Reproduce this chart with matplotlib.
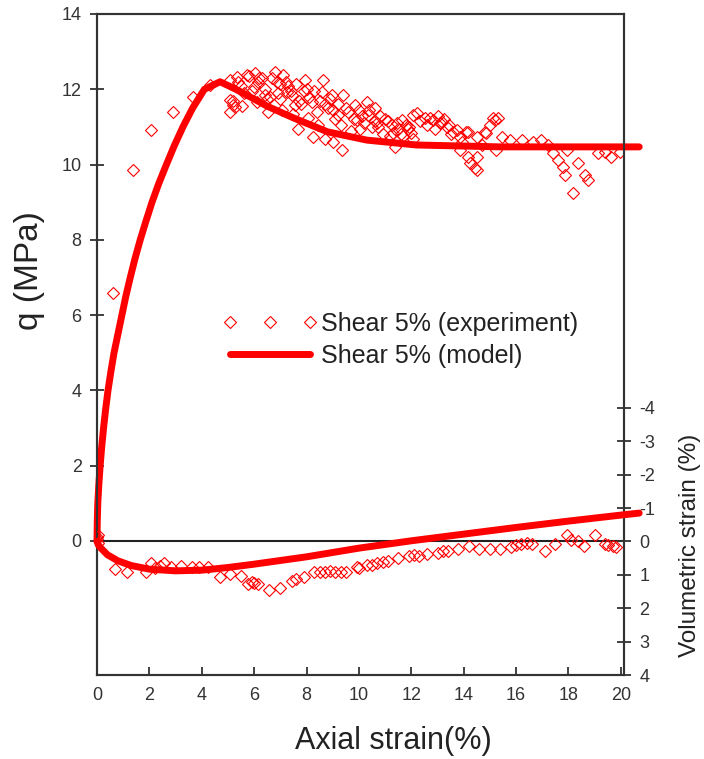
import matplotlib
matplotlib.use('Agg')
import matplotlib.pyplot as plt

plt.rcParams['font.family'] = ['Liberation Sans', 'DejaVu Sans']
plt.rcParams['axes.unicode_minus'] = False

# --- model curves ---
model_x = [0, 0.01, 0.03, 0.07, 0.12, 0.18, 0.25, 0.33, 0.42, 0.53, 0.65, 0.8, 0.95,
           1.1, 1.27, 1.45, 1.65, 1.87, 2.1, 2.36, 2.65, 2.95, 3.28, 3.65, 4.1, 4.7,
           5.3, 5.84, 6.5, 7.5, 8.8, 10.3, 12.2, 15.4, 20.7]
model_q = [0, 0.5, 1.0, 1.5, 2.0, 2.5, 3.0, 3.5, 4.0, 4.5, 5.0, 5.5, 6.0,
           6.5, 7.0, 7.5, 8.0, 8.5, 9.0, 9.5, 10.0, 10.5, 11.0, 11.5, 12.0, 12.2,
           12.0, 11.8, 11.55, 11.24, 10.87, 10.65, 10.52, 10.47, 10.47]

model_vx = [0, 0.05, 0.15, 0.4, 0.8, 1.3, 2.0, 3.0, 4.0, 5.0, 6.0, 8.0, 10.0, 12.0,
            14.0, 16.0, 18.0, 20.0, 20.7]
model_v = [0, 0.1, 0.2, 0.4, 0.58, 0.72, 0.83, 0.88, 0.86, 0.78, 0.68, 0.46, 0.2,
           -0.02, -0.22, -0.42, -0.61, -0.79, -0.85]

# --- experiment, deviator stress ---
exp_x = [0, 0.02, 0.61, 1.36, 2.06, 2.89, 3.68, 4.31,
         5.08, 5.33, 5.08, 5.27, 5.2, 5.08, 5.2, 5.71, 6.03, 6.16, 6.41, 6.54,
         6.79, 6.86, 7.11, 7.24, 6.98, 7.43, 7.56, 7.68, 7.94, 8.0, 8.19, 8.26,
         8.64, 8.58, 8.83, 8.96, 8.7, 9.02, 9.4, 9.34, 9.21, 9.6, 9.85, 9.91,
         10.29, 10.36, 10.61, 10.74, 11.0, 11.25, 11.37, 11.63, 11.88, 12.07, 12.07,
         5.5, 5.9, 6.3, 6.6, 7.3, 7.8, 8.4, 9.1, 9.7, 10.1, 10.5, 10.9, 11.5, 11.7,
         5.4, 5.6, 5.8, 6.0, 6.2, 6.4, 6.7, 6.9, 7.0, 7.2, 7.4, 7.6, 7.7, 7.9,
         8.1, 8.3, 8.5, 8.7, 8.9, 9.0, 9.2, 9.5, 9.8, 10.0, 10.2, 10.4, 10.6, 10.8,
         11.1, 11.3, 11.45, 11.8, 12.0, 5.55, 6.1, 6.5, 7.05, 7.5, 8.05, 8.45, 9.3,
         10.05, 10.7, 11.2, 11.6, 11.9,
         12.2, 12.52, 12.84, 12.9, 13.1, 13.16, 13.35, 13.6, 13.73, 13.85, 13.85,
         12.35, 12.6, 12.7, 13.0, 13.25, 13.45, 13.5, 13.95,
         14.1, 14.17, 14.17, 14.24, 14.43, 14.49, 14.49, 14.49, 14.68, 14.81, 14.87,
         15.0, 15.13, 15.19, 15.32, 15.25, 15.45, 15.76, 16.21, 16.65, 16.97, 17.23,
         17.42, 17.61, 17.8, 17.86, 17.93, 18.18, 18.37, 18.63, 18.75, 19.13, 19.39,
         19.64, 19.96]
exp_q = [0.05, 0.15, 6.6, 9.86, 10.92, 11.4, 11.8, 12.11,
         12.24, 12.33, 11.71, 11.54, 11.57, 11.4, 11.7, 12.37, 12.42, 12.19, 12.02, 11.4,
         12.46, 12.19, 12.37, 11.93, 11.75, 11.84, 11.57, 10.95, 12.24, 12.02, 11.66, 10.73,
         12.24, 11.93, 11.49, 11.84, 10.69, 10.6, 11.84, 10.38, 11.31, 11.4, 11.57, 11.18,
         11.66, 11.31, 11.49, 11.0, 11.22, 11.04, 10.47, 11.18, 10.95, 11.31, 10.69,
         12.1, 11.95, 12.3, 11.8, 12.1, 11.6, 11.4, 11.2, 10.9, 11.3, 11.0, 10.8, 10.95, 10.75,
         12.2, 11.9, 12.35, 12.05, 12.3, 11.85, 12.3, 11.9, 12.15, 12.2, 11.95, 12.15, 11.7, 11.95,
         11.8, 11.95, 11.7, 11.6, 11.75, 11.45, 11.6, 11.5, 11.2, 11.45, 11.1, 11.45, 11.15, 11.3,
         11.15, 10.85, 11.1, 11.05, 10.85, 11.55, 11.65, 11.75, 11.45, 11.35, 11.25, 11.05, 11.05,
         10.95, 11.1, 10.75, 10.8, 11.0,
         11.36, 11.23, 11.18, 10.95, 11.1, 11.14, 11.0, 10.87, 10.92, 10.74, 10.39,
         11.15, 11.05, 11.25, 11.3, 11.2, 11.05, 10.8, 10.6,
         10.87, 10.87, 10.21, 10.03, 9.9, 9.86, 10.21, 10.74, 10.52, 10.87, 10.83,
         11.05, 11.23, 11.18, 11.23, 10.39, 10.74, 10.65, 10.65, 10.6, 10.65, 10.52,
         10.3, 10.12, 9.94, 9.72, 10.39, 9.24, 10.03, 9.72, 9.59, 10.3, 10.34,
         10.21, 10.34]

# --- experiment, volumetric strain ---
exp_vx = [0, 0.02, 0.67, 1.14, 1.87, 2.08, 2.55, 2.81, 3.21, 3.62, 3.89, 4.22, 4.69,
          5.09, 5.49, 5.76, 6.16, 6.56, 6.97, 7.43, 7.9, 8.3, 8.7, 9.1, 9.5, 9.91,
          10.3, 10.7, 11.1, 11.5, 11.9, 12.3, 12.6, 13.0, 13.4, 13.8, 14.2, 14.6,
          15.0, 15.4, 15.8, 16.2, 16.6, 17.1, 17.5, 17.95, 18.35, 18.6, 19.0, 19.4,
          19.7, 2.2, 2.4, 5.9, 6.0, 7.6, 8.5, 8.9, 9.3, 10.0, 10.5, 10.9, 12.1, 13.2,
          16.0, 16.4, 18.1, 19.5, 19.8]
exp_v = [-0.12, 0.05, 0.83, 0.91, 0.9, 0.65, 0.65, 0.76, 0.74, 0.76, 0.76, 0.76, 1.07,
         0.97, 1.02, 1.28, 1.28, 1.44, 1.39, 1.18, 1.07, 0.92, 0.9, 0.9, 0.9, 0.76,
         0.71, 0.65, 0.6, 0.5, 0.45, 0.45, 0.39, 0.34, 0.28, 0.23, 0.14, 0.23,
         0.23, 0.23, 0.18, 0.08, 0.08, 0.28, 0.08, -0.18, -0.01, 0.15, -0.18, 0.08,
         0.15, 0.78, 0.72, 1.2, 1.25, 1.12, 0.9, 0.88, 0.9, 0.8, 0.7, 0.62, 0.42, 0.3,
         0.1, 0.05, -0.05, 0.12, 0.18]

q_ticks = [0, 2, 4, 6, 8, 10, 12, 14]
v_ticks = [-4, -3, -2, -1, 0, 1, 2, 3, 4]
x_ticks = [0, 2, 4, 6, 8, 10, 12, 14, 16, 18, 20]

W, H = 704, 759
fig = plt.figure(figsize=(W / 100, H / 100), dpi=100)
ax = fig.add_axes([97 / W, 1 - 675 / H, (624 - 97) / W, (675 - 14) / H])
ax2 = ax.twinx()

red = '#ff0000'
ax.plot(exp_x, exp_q, ls='none', marker='D', ms=6.5, mfc='none', mec=red, mew=0.8,
        label='Shear 5% (experiment)', zorder=3)
ax.plot(model_x, model_q, color=red, lw=5, solid_capstyle='round', clip_on=False,
        label='Shear 5% (model)', zorder=4)
ax.axhline(0, color='#222222', lw=1.5, zorder=2)

ax2.plot(exp_vx, exp_v, ls='none', marker='D', ms=6.5, mfc='none', mec=red, mew=0.8, zorder=3)
ax2.plot(model_vx, model_v, color=red, lw=5, solid_capstyle='round', clip_on=False, zorder=4)

ax.set_xlim(0, 20.12)
ax.set_ylim(-3.56, 14)
ax2.set_ylim(4.0, -15.8)

ax.set_xticks(x_ticks)
ax.set_yticks(q_ticks)
ax2.set_yticks(v_ticks)

tick_kw = dict(labelsize=13, labelcolor='#333333', color='#333333', width=1.3)
ax.tick_params(axis='x', direction='in', length=6, pad=9, **tick_kw)
ax.tick_params(axis='y', direction='inout', length=10, pad=6, **tick_kw)
ax2.tick_params(axis='y', direction='inout', length=10, pad=6, **tick_kw)

for a in (ax, ax2):
    for s in a.spines.values():
        s.set_color('#333333')
        s.set_linewidth(1.5)

fig.text(30 / W, 1 - 271 / H, 'q (MPa)', rotation=90, ha='center', va='center',
         fontsize=24, color='#222222')
fig.text(393 / W, 1 - 741 / H, 'Axial strain(%)', ha='center', va='center',
         fontsize=22, color='#222222')
fig.text(690 / W, 1 - 545 / H, 'Volumetric strain (%)', rotation=90, ha='center',
         va='center', fontsize=17.5, color='#222222')

ax.legend(loc='center left', bbox_to_anchor=(200 / W, 1 - 340 / H),
          bbox_transform=fig.transFigure, frameon=False, fontsize=18,
          numpoints=3, handlelength=3.8, handletextpad=0.15, labelspacing=0.3,
          labelcolor='#222222')

fig.savefig('out.png', dpi=100)
